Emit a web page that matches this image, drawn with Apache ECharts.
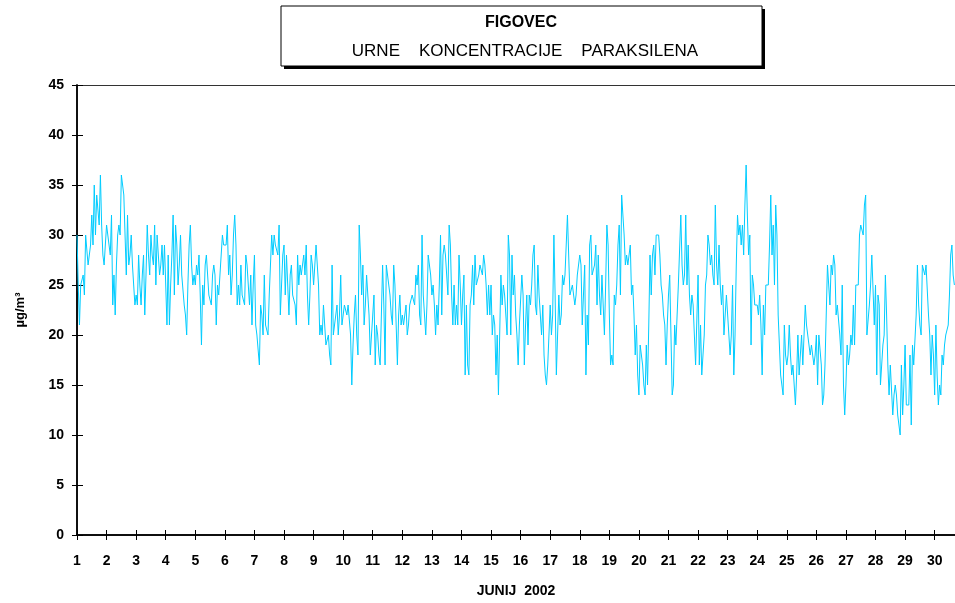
<!DOCTYPE html>
<html>
<head>
<meta charset="utf-8">
<script src="https://cdn.jsdelivr.net/npm/echarts@6/dist/echarts.min.js"></script>
<style>
  html, body { margin: 0; padding: 0; background: #fff; }
  #main { width: 955px; height: 603px; }
</style>
</head>
<body>
<div id="main"></div>
<script>
// urne vrednosti paraksilena (ug/m3), po dnevih, junij 2002
var jun01 = [30,25,21,25,25,26,24,30,30,27,27,29,32,29,35,30,34,34,31,36,31,28,27,29]
var jun02 = [31,30,30,28,32,23,26,22,27,30,31,30,36,35,34,30,26,32,27,28,30,27,25,23]
var jun03 = [24,23,28,25,23,26,28,22,26,31,28,26,30,28,27,31,25,30,28,26,27,29,26,29]
var jun04 = [29,21,28,21,25,28,32,24,31,29,25,27,30,26,26,23,22,20,25,29,31,27,25,26]
var jun05 = [25,27,26,28,24,19,25,23,27,28,26,24,24,23,26,27,26,21,25,24,26,28,30,29]
var jun06 = [29,29,31,26,28,24,26,30,32,29,23,25,23,27,24,24,23,28,27,25,23,26,21,25]
var jun07 = [28,21,20,20,17,23,22,20,26,21,21,20,24,27,30,28,30,29,29,28,31,22,25,28]
var jun08 = [29,24,28,25,22,26,27,24,24,23,21,28,25,27,26,27,28,26,29,24,21,24,28,27]
var jun09 = [25,25,29,27,25,20,21,20,23,21,19,19,20,18,17,27,20,21,21,23,20,22,26,21]
var jun10 = [21,23,23,22,23,23,20,15,19,22,24,20,18,31,28,24,27,21,23,26,26,22,18,20]
var jun11 = [20,24,17,21,20,18,17,17,27,23,17,27,26,26,24,22,21,27,25,21,17,22,24,21]
var jun12 = [22,21,22,23,20,21,23,23,24,24,23,26,25,27,22,21,30,24,22,20,23,28,27,26]
var jun13 = [24,25,23,20,23,21,25,30,22,28,29,28,26,24,31,29,24,21,25,21,23,21,28,25]
var jun14 = [21,24,26,16,23,17,16,23,24,27,23,28,25,25,26,27,27,26,28,27,25,22,25,22]
var jun15 = [25,20,22,21,16,20,14,20,26,23,25,24,24,20,30,28,20,28,24,26,22,20,17,21]
var jun16 = [21,26,24,17,21,24,19,24,23,25,28,29,23,22,27,24,24,20,23,18,16,15,17,20]
var jun17 = [23,20,22,30,24,16,20,24,21,22,26,25,26,26,32,28,24,24,25,25,23,24,26,26]
var jun18 = [28,27,21,21,27,16,22,19,29,30,26,26,27,29,23,28,24,22,26,23,20,25,31,29]
var jun19 = [22,17,18,17,24,23,25,29,31,24,34,32,30,27,28,27,28,29,24,25,22,18,21,16]
var jun20 = [14,19,19,17,15,14,19,15,21,28,24,28,29,26,30,30,30,28,25,24,22,21,17,21]
var jun21 = [24,26,20,14,15,21,19,22,25,25,32,27,25,26,32,25,29,24,22,24,23,23,17,17]
var jun22 = [26,17,21,16,18,20,25,26,30,29,27,28,26,25,33,27,25,29,25,23,25,20,20,24]
var jun23 = [24,20,18,20,25,16,20,27,32,30,31,29,31,28,33,37,32,28,30,19,26,25,23,23]
var jun24 = [23,22,24,21,16,23,20,25,25,25,29,34,28,31,25,33,30,22,22,16,15,14,21,18]
var jun25 = [17,18,21,18,16,17,17,13,16,20,16,18,20,17,20,23,21,20,20,18,19,18,17,18]
var jun26 = [20,15,20,20,17,13,14,17,22,27,25,23,27,26,28,27,22,23,23,20,18,25,15,12]
var jun27 = [15,19,17,18,20,19,23,19,25,25,25,30,31,31,30,33,34,20,20,23,25,28,28,21]
var jun28 = [25,16,24,23,15,17,19,20,26,22,17,14,17,17,12,14,15,14,12,12,10,17,12,15]
var jun29 = [19,13,13,13,18,11,19,17,17,22,27,23,21,20,27,27,26,27,27,22,20,16,20,18]
var jun30 = [14,21,16,13,15,14,18,17,19,20,20,21,24,28,29,26,25]

var yTicks = [0, 5, 10, 15, 20, 25, 30, 35, 40, 45]

var days = [jun01, jun02, jun03, jun04, jun05, jun06, jun07, jun08, jun09, jun10,
  jun11, jun12, jun13, jun14, jun15, jun16, jun17, jun18, jun19, jun20,
  jun21, jun22, jun23, jun24, jun25, jun26, jun27, jun28, jun29, jun30]

// [ura od zacetka meseca, vrednost]
var points = []
days.forEach(function (d, i) {
  d.forEach(function (v, h) { points.push([i * 24 + h, v]) })
})

var font = "'Liberation Sans', Arial, sans-serif"
var xMax = 712.5

var option = {
  animation: false,
  backgroundColor: '#fff',
  grid: { left: 77, right: 0, top: 85, bottom: 68, outerBoundsMode: 'none', containLabel: false },
  graphic: [
    // senca okvirja naslova
    { type: 'rect', shape: { x: 284, y: 9, width: 481, height: 60 }, style: { fill: '#000' }, z: 10 },
    { type: 'rect', shape: { x: 281, y: 6, width: 481, height: 60 }, style: { fill: '#fff', stroke: '#000', lineWidth: 1 }, z: 11 },
    { type: 'text', x: 521, y: 23, z: 12, style: { text: 'FIGOVEC', font: 'bold 16px ' + font, fill: '#000', textAlign: 'center', textVerticalAlign: 'middle' } },
    { type: 'text', x: 525, y: 51, z: 12, style: { text: 'URNE    KONCENTRACIJE    PARAKSILENA', font: '17px ' + font, fill: '#000', textAlign: 'center', textVerticalAlign: 'middle' } }
  ],
  xAxis: [
    {
      type: 'value', min: 0, max: xMax, interval: 24, position: 'bottom',
      name: 'JUNIJ  2002', nameLocation: 'middle', nameGap: 49,
      nameTextStyle: { fontFamily: font, fontWeight: 'bold', fontSize: 14, color: '#000' },
      axisLine: { onZero: false, lineStyle: { color: '#000', width: 1.5 } },
      axisTick: { length: 5, lineStyle: { color: '#000', width: 1 } },
      axisLabel: {
        margin: 19, fontFamily: font, fontWeight: 'bold', fontSize: 14, color: '#000',
        formatter: function (v) { return v % 24 === 0 ? String(v / 24 + 1) : '' }
      },
      splitLine: { show: false }
    },
    {
      // kljukice navznoter
      type: 'value', min: 0, max: xMax, interval: 24, position: 'bottom', offset: 0,
      axisLine: { show: true, onZero: false, lineStyle: { color: '#000', width: 1.5 } },
      axisTick: { show: true, inside: true, length: 5, lineStyle: { color: '#000', width: 1 } },
      axisLabel: { show: false }, splitLine: { show: false }
    },
    {
      type: 'value', min: 0, max: xMax, position: 'top',
      axisLine: { onZero: false, lineStyle: { color: '#333', width: 1 } },
      axisTick: { show: false }, axisLabel: { show: false }, splitLine: { show: false }
    }
  ],
  yAxis: [
    {
      type: 'value', min: yTicks[0], max: yTicks[yTicks.length - 1], interval: 5, position: 'left',
      name: 'µg/m³', nameLocation: 'middle', nameGap: 50, nameRotate: 90,
      nameTextStyle: { fontFamily: font, fontWeight: 'bold', fontSize: 13, color: '#000' },
      axisLine: { show: true, onZero: false, lineStyle: { color: '#000', width: 1.5 } },
      axisTick: { show: true, length: 5, lineStyle: { color: '#000', width: 1 } },
      axisLabel: { margin: 13, fontFamily: font, fontWeight: 'bold', fontSize: 14, color: '#000' },
      splitLine: { show: false }
    },
    {
      type: 'value', min: 0, max: 45, interval: 5, position: 'left', offset: 0,
      axisLine: { show: true, onZero: false, lineStyle: { color: '#000', width: 1.5 } },
      axisTick: { show: true, inside: true, length: 6, lineStyle: { color: '#000', width: 1 } },
      axisLabel: { show: false }, splitLine: { show: false }
    }
  ],
  series: [
    {
      name: 'paraksilen',
      type: 'line',
      xAxisIndex: 0,
      yAxisIndex: 0,
      data: points,
      showSymbol: false,
      lineStyle: { color: '#00CCFF', width: 1 },
      z: 3
    }
  ]
}

var myChart = echarts.init(document.getElementById('main'))
myChart.setOption(option)
</script>
</body>
</html>
